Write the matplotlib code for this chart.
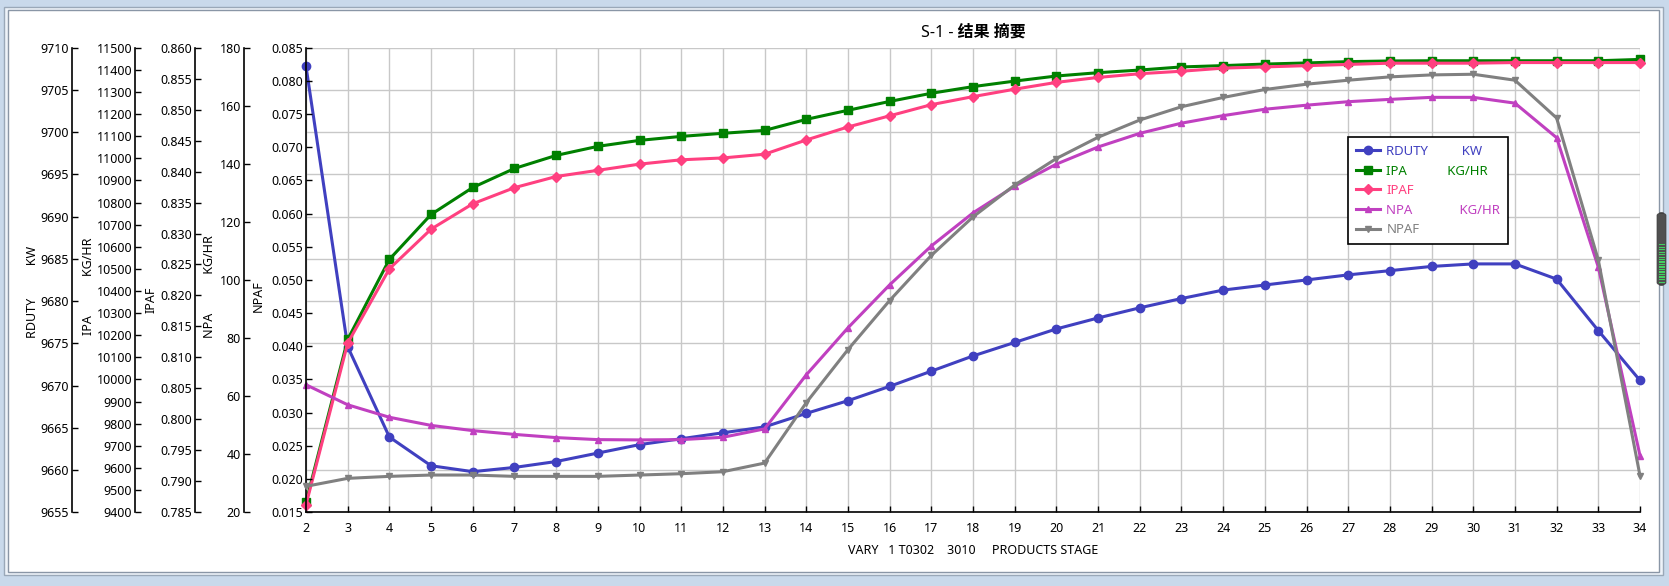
import matplotlib
matplotlib.use('Agg')
import matplotlib.pyplot as plt
from matplotlib.patches import Rectangle, FancyBboxPatch
import numpy as np

plt.rcParams['font.family'] = ['Noto Sans', 'Noto Sans CJK SC', 'DejaVu Sans']

# ---------------- data ----------------
stages = list(range(2, 35))
rduty = [9707.8, 9674.6, 9663.9, 9660.5, 9659.8, 9660.3, 9661.0, 9662.0, 9663.0, 9663.7,
         9664.4, 9665.1, 9666.7, 9668.2, 9669.9, 9671.7, 9673.5, 9675.1, 9676.7, 9678.0,
         9679.2, 9680.3, 9681.3, 9681.9, 9682.5, 9683.1, 9683.6, 9684.1, 9684.4, 9684.4,
         9682.6, 9676.5, 9670.6]
ipa = [9445, 10181, 10543, 10746, 10868, 10954, 11013, 11054, 11081, 11099,
       11113, 11126, 11176, 11217, 11257, 11294, 11324, 11349, 11372, 11387,
       11399, 11413, 11419, 11426, 11431, 11437, 11440, 11441, 11441, 11441,
       11441, 11441, 11447]
ipaf = [0.7862, 0.8123, 0.8243, 0.8307, 0.8348, 0.8374, 0.8392, 0.8402, 0.8412, 0.8419,
        0.8422, 0.8428, 0.8451, 0.8472, 0.8490, 0.8508, 0.8521, 0.8533, 0.8544, 0.8552,
        0.8558, 0.8562, 0.8567, 0.8569, 0.8571, 0.8573, 0.8575, 0.8575, 0.8575, 0.8576,
        0.8576, 0.8576, 0.8576]
npa = [63.9, 57.0, 52.7, 49.9, 48.1, 46.8, 45.7, 45.0, 44.9, 45.0,
       45.8, 48.7, 67.3, 83.5, 98.3, 111.7, 123.1, 132.3, 139.9, 145.8,
       150.5, 154.0, 156.6, 158.8, 160.2, 161.4, 162.2, 162.9, 162.9, 160.9,
       149.0, 104.4, 39.5]
npaf = [0.0189, 0.0201, 0.0204, 0.0206, 0.0206, 0.0204, 0.0204, 0.0204, 0.0206, 0.0208,
        0.0211, 0.0224, 0.0315, 0.0395, 0.0469, 0.0537, 0.0595, 0.0643, 0.0683, 0.0715,
        0.0741, 0.0761, 0.0775, 0.0787, 0.0795, 0.0801, 0.0806, 0.0809, 0.0810, 0.0801,
        0.0744, 0.0530, 0.0205]

names = ['RDUTY', 'IPA', 'IPAF', 'NPA', 'NPAF']
units = ['KW', 'KG/HR', '', 'KG/HR', '']
legend_labels = ['RDUTY          KW', 'IPA            KG/HR', 'IPAF', 'NPA              KG/HR', 'NPAF']
axis_labels = ['RDUTY          KW', 'IPA            KG/HR', 'IPAF', 'NPA            KG/HR', 'NPAF']
title = 'S-1 - 结果 摘要'
xlabel = 'VARY   1 T0302    3010     PRODUCTS STAGE'

series = [rduty, ipa, ipaf, npa, npaf]
colors = ['#4040C0', '#008000', '#FF4080', '#C040C0', '#808080']
markers = ['o', 's', 'D', '^', 'v']
msizes = [6, 6, 5, 5, 5]
ylims = [(9655, 9710), (9400, 11500), (0.785, 0.860), (20, 180), (0.015, 0.085)]
ysteps = [5, 100, 0.005, 20, 0.005]
yfmts = ['{:.0f}', '{:.0f}', '{:.3f}', '{:.0f}', '{:.3f}']

# ---------------- figure ----------------
W, H = 1669, 586
fig = plt.figure(figsize=(W / 100, H / 100), dpi=100)
fig.patch.set_facecolor('#c9d9eb')

def fx(px):
    return px / W

def fy(py):
    return 1 - py / H

# window chrome
fig.add_artist(Rectangle((fx(4), fy(575)), fx(1663) - fx(4), fy(7) - fy(575),
                         transform=fig.transFigure, facecolor='#eef3f9',
                         edgecolor='#9aa8b8', lw=1, zorder=-5))
fig.add_artist(Rectangle((fx(8), fy(572)), fx(1659) - fx(8), fy(10) - fy(572),
                         transform=fig.transFigure, facecolor='white',
                         edgecolor='#8a96a6', lw=1, zorder=-4))
fig.add_artist(FancyBboxPatch((fx(1657), fy(285)), fx(9), fy(213) - fy(285),
                              boxstyle='round,pad=0,rounding_size=0.004',
                              transform=fig.transFigure, facecolor='#505050',
                              edgecolor='#404040', lw=0.5, zorder=5))
for gy in np.arange(244, 283, 2.5):
    fig.add_artist(Rectangle((fx(1658.5), fy(gy + 1.3)), fx(6), fy(gy) - fy(gy + 1.3),
                             transform=fig.transFigure, facecolor='#40d060',
                             edgecolor='none', zorder=6))

left, right, top, bottom = 306, 1640, 47.7, 512.2
rect = [fx(left), fy(bottom), fx(right) - fx(left), fy(top) - fy(bottom)]
spine_px = [72, 135, 194.5, 243.7, 306]
label_x_px = [32, 88, 150.7, 209, 258]
label_y_px = [291.5, 286.5, 299.5, 286.5, 296.5]

axes = []
handles = []
for i in range(5):
    ax = fig.add_axes(rect, label='ax%d' % i)
    if i > 0:
        ax.patch.set_visible(False)
    else:
        ax.patch.set_facecolor('white')
    axes.append(ax)
    ln, = ax.plot(stages, series[i], color=colors[i], lw=2.2, marker=markers[i],
                  markersize=msizes[i], markeredgecolor=colors[i],
                  label=legend_labels[i], clip_on=False, zorder=3)
    handles.append(ln)
    ax.set_xlim(2, 34)
    lo, hi = ylims[i]
    ax.set_ylim(lo, hi)
    ticks = np.round(np.arange(lo, hi + ysteps[i] / 2, ysteps[i]), 4)
    ax.set_yticks(ticks)
    ax.set_yticklabels([yfmts[i].format(t) for t in ticks])
    for s in ['top', 'right']:
        ax.spines[s].set_visible(False)
    off = (spine_px[i] - left) / (right - left)
    ax.spines['left'].set_position(('axes', off))
    ax.spines['left'].set_linewidth(1.2)
    ax.tick_params(axis='y', direction='in', length=4, width=1, pad=2,
                   labelsize=9, colors='black')
    ax.set_ylabel(axis_labels[i], fontsize=9, ha='center', va='center',
                  rotation_mode='anchor')
    ax.yaxis.set_label_coords((label_x_px[i] - left) / (right - left),
                              (bottom - label_y_px[i]) / (bottom - top))
    if i == 0:
        ax.set_xticks(stages)
        ax.tick_params(axis='x', direction='in', length=4, width=1, pad=7,
                       labelsize=9, colors='black')
        ax.spines['bottom'].set_linewidth(1.2)
        ax.grid(True, color='#c8c8c8', lw=1)
        ax.set_axisbelow(True)
        ax.set_xlabel(xlabel, fontsize=9, va='center')
        ax.xaxis.set_label_coords(0.5, (bottom - 551) / (bottom - top))
    else:
        ax.spines['bottom'].set_visible(False)
        ax.tick_params(axis='x', bottom=False, labelbottom=False)

leg_ax = axes[-1]
leg = leg_ax.legend(handles=handles, loc='upper left',
                    bbox_to_anchor=((1348 - left) / (right - left), (bottom - 137) / (bottom - top)),
                    borderaxespad=0, fontsize=9.5, frameon=True, fancybox=False,
                    framealpha=1, edgecolor='black', handlelength=1.8,
                    handletextpad=0.5, labelspacing=0.5, borderpad=0.6)
leg.get_frame().set_linewidth(1.2)
for t, c in zip(leg.get_texts(), colors):
    t.set_color(c)
leg.set_zorder(10)

fig.text(fx(973), fy(33), title, ha='center', va='center', fontsize=11.5,
         fontweight='bold')

fig.savefig('out.png', dpi=100, facecolor=fig.get_facecolor())
